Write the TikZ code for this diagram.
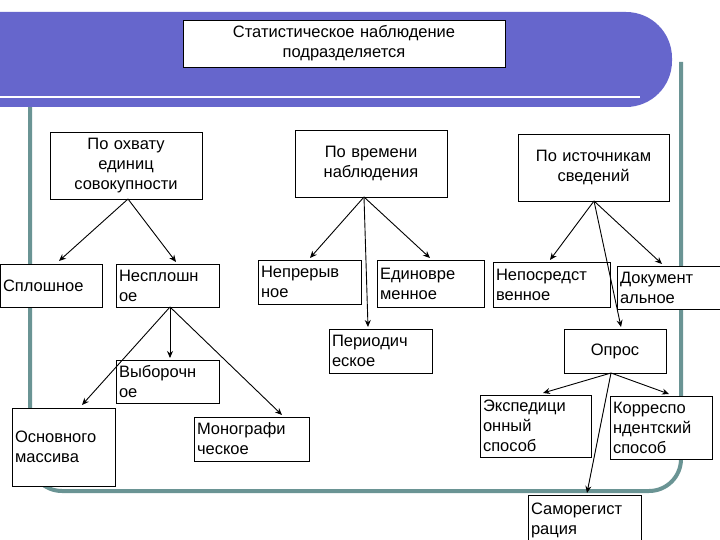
\documentclass[tikz,border=0pt]{standalone}
\usepackage{fontspec}
\setmainfont{Liberation Sans}
\usetikzlibrary{arrows.meta}
\definecolor{bandblue}{HTML}{6666CC}
\definecolor{frameteal}{HTML}{6A9494}
\tikzset{
  box/.style={draw=black, line width=0.8pt, fill=white, inner sep=3pt, font=\fontsize{16.5}{20}\selectfont},
  arr/.style={draw=black, line width=0.9pt, -{Stealth[length=7pt,width=6pt]}}
}
\newcommand{\bx}[7]{%
  \pgfmathsetmacro{\cx}{(#2+#4)/2}\pgfmathsetmacro{\cy}{(#3+#5)/2}%
  \pgfmathsetmacro{\ww}{#4-#2}\pgfmathsetmacro{\hh}{#5-#3}\pgfmathsetmacro{\tw}{#4-#2-6}%
  \node[box, minimum width=\ww pt, minimum height=\hh pt, text width=\tw pt, align=#6] (#1) at (\cx,\cy) {#7};}
\begin{document}
\begin{tikzpicture}[x=1pt,y=-1pt]
\useasboundingbox (0,0) rectangle (720,540);
\fill[white] (0,0) rectangle (720,540);
% frame
\draw[frameteal, line width=4pt, rounded corners=32] (30,100) -- (30,491) -- (681,491) -- (681,62);
% blue band
\fill[bandblue, rounded corners=46] (-50,12) -- (672,12) -- (672,107) -- (-50,107) -- cycle;
\fill[bandblue] (0,12) rectangle (60,107);
\draw[white, line width=2pt] (0,97) -- (640,97);
% boxes
\bx{title}{183}{20}{505}{67}{center}{Статистическое наблюдение\\подразделяется}
\bx{cov}{50}{132}{202}{199}{center}{По охвату\\единиц\\совокупности}
\bx{time}{295}{130}{447}{197}{center}{По времени\\наблюдения\\[10pt]}
\bx{src}{518}{134}{669}{201}{center}{По источникам\\сведений}
\bx{spl}{0}{264}{102}{307}{left}{Сплошное\\[6pt]}
\bx{nespl}{116}{264}{219}{307}{left}{Несплошн\\ое}
\bx{nepr}{258}{260}{361}{304}{left}{Непрерыв\\ное}
\bx{edin}{377}{260}{484}{307}{left}{Единовре\\менное}
\bx{neposr}{493}{262}{610}{307}{left}{Непосредст\\венное}
\bx{doc}{617}{266}{720}{309}{left}{Документ\\альное}
\bx{period}{329}{329}{432}{373}{left}{Периодич\\еское}
\bx{opros}{564}{329}{666}{373}{center}{Опрос\\[8pt]}
\bx{vyb}{116}{360}{219}{403}{left}{Выборочн\\ое}
\bx{osn}{12}{408}{115}{486}{left}{Основного\\массива\\[20pt]}
\bx{mono}{194}{417}{309}{461}{left}{Монографи\\ческое}
\bx{exp}{480}{395}{591}{457}{left}{Экспедици\\онный\\способ}
\bx{korr}{610}{396}{712}{459}{left}{Корреспо\\ндентский\\способ}
\bx{samo}{528}{495}{641}{545}{left}{Саморегист\\рация}
% arrows
\coordinate (c1) at (128,199);
\coordinate (c2) at (170,307);
\coordinate (c3) at (364,197);
\coordinate (c4) at (594,201);
\coordinate (c5) at (611,373);
\draw[arr] (c1) -- (59,261);
\draw[arr] (c1) -- (176,262);
\draw[arr] (c2) -- (82,405);
\draw[arr] (c2) -- (170,358);
\draw[arr] (c2) -- (282,415);
\draw[arr] (c3) -- (310,258);
\draw[arr] (c3) -- (368,327);
\draw[arr] (c3) -- (430,258);
\draw[arr] (c4) -- (550,260);
\draw[arr] (c4) -- (662,264);
\draw[arr] (c4) -- (621,327);
\draw[arr] (c5) -- (543,393);
\draw[arr] (c5) -- (669,394);
\draw[arr] (c5) -- (587,493);
\end{tikzpicture}
\end{document}
